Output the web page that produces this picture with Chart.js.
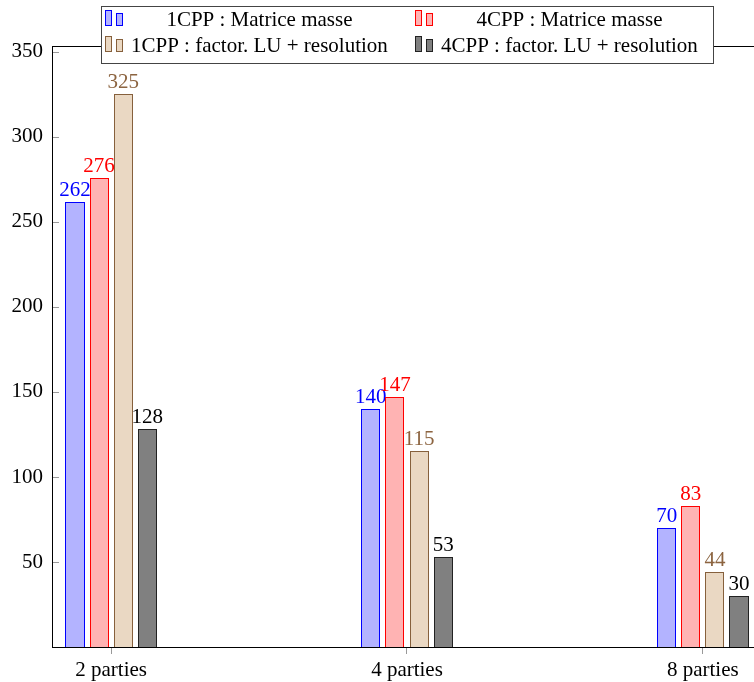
<!DOCTYPE html>
<html>
<head>
<meta charset="utf-8">
<script src="https://cdn.jsdelivr.net/npm/chart.js@4.4.1/dist/chart.umd.min.js"></script>
<style>
  html, body { margin: 0; padding: 0; background: #fff; overflow: hidden; }
  canvas { display: block; }
</style>
</head>
<body>
<canvas id="myChart" width="770" height="682"></canvas>
<script>
const categories = ["2 parties", "4 parties", "8 parties"];
const masse1CPP = [262, 140, 70];
const masse4CPP = [276, 147, 83];
const lu1CPP = [325, 115, 44];
const lu4CPP = [128, 53, 30];
const seriesLabels = [
  "1CPP : Matrice masse",
  "4CPP : Matrice masse",
  "1CPP : factor. LU + resolution",
  "4CPP : factor. LU + resolution",
];
const yMax = 353.5;
const yStep = 50;

const font = '21px "Liberation Serif"';

const toPoints = function (values) {
  return values.map((v, i) => ({ x: i, y: v }));
};

const makeDataset = function (label, values, fill, stroke, textColor) {
  return {
    label: label,
    data: toPoints(values),
    backgroundColor: fill,
    borderColor: stroke,
    borderWidth: 1,
    labelColor: textColor,
    categoryPercentage: 0.326,
    barPercentage: 0.79,
  };
};

// bars drawn in pgfplots order (crisp 1px outline), each followed by its value
const barsAndLabels = {
  id: "barsAndLabels",
  beforeDatasetsDraw(chart) {
    const ctx = chart.ctx;
    chart.data.datasets.forEach((ds, i) => {
      const meta = chart.getDatasetMeta(i);
      meta.data.forEach((bar, j) => {
        const p = bar.getProps(["x", "y", "base", "width"], true);
        const l = Math.round(p.x - p.width / 2);
        const r = Math.round(p.x + p.width / 2);
        const t = Math.round(p.y);
        const b = Math.round(p.base);
        ctx.save();
        ctx.fillStyle = ds.backgroundColor;
        ctx.fillRect(l, t, r - l, b - t);
        ctx.strokeStyle = ds.borderColor;
        ctx.lineWidth = 1;
        ctx.strokeRect(l + 0.5, t + 0.5, r - l - 1, b - t);
        ctx.font = font;
        ctx.fillStyle = ds.labelColor;
        ctx.textAlign = "center";
        ctx.textBaseline = "alphabetic";
        ctx.fillText(String(ds.data[j].y), p.x, t - 6);
        ctx.restore();
      });
    });
    return false;
  },
};

const frameAndTicks = {
  id: "frameAndTicks",
  afterDraw(chart) {
    const ctx = chart.ctx;
    const a = chart.chartArea;
    const y = chart.scales.y;
    ctx.save();
    ctx.strokeStyle = "#999";
    ctx.lineWidth = 1;
    y.ticks.forEach((t) => {
      if (t.value === 0) return;
      const py = Math.round(y.getPixelForValue(t.value)) + 0.5;
      ctx.beginPath();
      ctx.moveTo(a.left, py);
      ctx.lineTo(a.left + 7, py);
      ctx.stroke();
    });
    ctx.strokeStyle = "#000";
    ctx.strokeRect(a.left + 0.5, a.top + 0.5, a.right - a.left, a.bottom - a.top);
    ctx.restore();
  },
};

const boxLegend = {
  id: "boxLegend",
  afterDraw(chart) {
    const ctx = chart.ctx;
    const a = chart.chartArea;
    const ds = chart.data.datasets;
    ctx.save();
    ctx.font = font;
    const w1 = Math.max(ctx.measureText(ds[0].label).width, ctx.measureText(ds[2].label).width) + 14;
    const w2 = Math.max(ctx.measureText(ds[1].label).width, ctx.measureText(ds[3].label).width) + 14;
    const total = Math.round(23 + w1 + 16 + 23 + w2 + 8);
    const left = Math.round((a.left + a.right) / 2 - total / 2);
    const top = 6;
    const height = 57;
    ctx.fillStyle = "#fff";
    ctx.fillRect(left, top, total, height);
    ctx.strokeStyle = "#444";
    ctx.lineWidth = 1;
    ctx.strokeRect(left + 0.5, top + 0.5, total, height);
    const cols = [left, left + 23 + w1 + 16];
    const widths = [w1, w2];
    ds.forEach((d, i) => {
      const cx = Math.round(cols[i % 2]);
      const base = top + 20 + 26 * Math.floor(i / 2);
      ctx.fillStyle = d.backgroundColor;
      ctx.strokeStyle = d.borderColor;
      [[4, 16], [15, 13]].forEach((b) => {
        ctx.fillRect(cx + b[0], base - b[1], 7, b[1]);
        ctx.strokeRect(cx + b[0] + 0.5, base - b[1] + 0.5, 6, b[1] - 1);
      });
      ctx.fillStyle = "#000";
      ctx.textAlign = "center";
      ctx.textBaseline = "alphabetic";
      ctx.fillText(d.label, cx + 23 + widths[i % 2] / 2, base);
    });
    ctx.restore();
  },
};

const config = {
  type: "bar",
  data: {
    datasets: [
      makeDataset(seriesLabels[0], masse1CPP, "#b3b3ff", "#0000ff", "#0000ff"),
      makeDataset(seriesLabels[1], masse4CPP, "#ffb3b3", "#ff0000", "#ff0000"),
      makeDataset(seriesLabels[2], lu1CPP, "#ead8c3", "#86603c", "#8c6440"),
      makeDataset(seriesLabels[3], lu4CPP, "#808080", "#222222", "#000000"),
    ],
  },
  options: {
    responsive: false,
    animation: false,
    devicePixelRatio: 1,
    layout: { padding: { top: 46, right: 8, left: 0, bottom: 0 } },
    plugins: { legend: { display: false }, tooltip: { enabled: false } },
    scales: {
      x: {
        type: "linear",
        min: -0.2,
        max: 2.2,
        offset: false,
        grid: { display: true, offset: false, drawOnChartArea: false, drawTicks: true, tickLength: 7, color: "#999" },
        border: { display: false },
        ticks: {
          stepSize: 1,
          includeBounds: false,
          padding: 4,
          maxRotation: 0,
          color: "#000",
          font: { family: "Liberation Serif", size: 21 },
          callback: (v) => categories[v] || "",
        },
        afterFit(scale) {
          scale.height = 35;
          scale.paddingLeft = 0;
          scale.paddingRight = 0;
        },
      },
      y: {
        min: 0,
        max: yMax,
        grid: { display: false, drawTicks: false },
        border: { display: false },
        ticks: {
          stepSize: yStep,
          includeBounds: false,
          padding: 9,
          color: "#000",
          font: { family: "Liberation Serif", size: 21 },
          callback: (v) => (v === 0 ? "" : String(v)),
        },
        afterFit(scale) {
          scale.width = 52;
          scale.paddingTop = 0;
          scale.paddingBottom = 0;
        },
      },
    },
  },
  plugins: [barsAndLabels, frameAndTicks, boxLegend],
};

new Chart(document.getElementById("myChart"), config);
</script>
</body>
</html>
